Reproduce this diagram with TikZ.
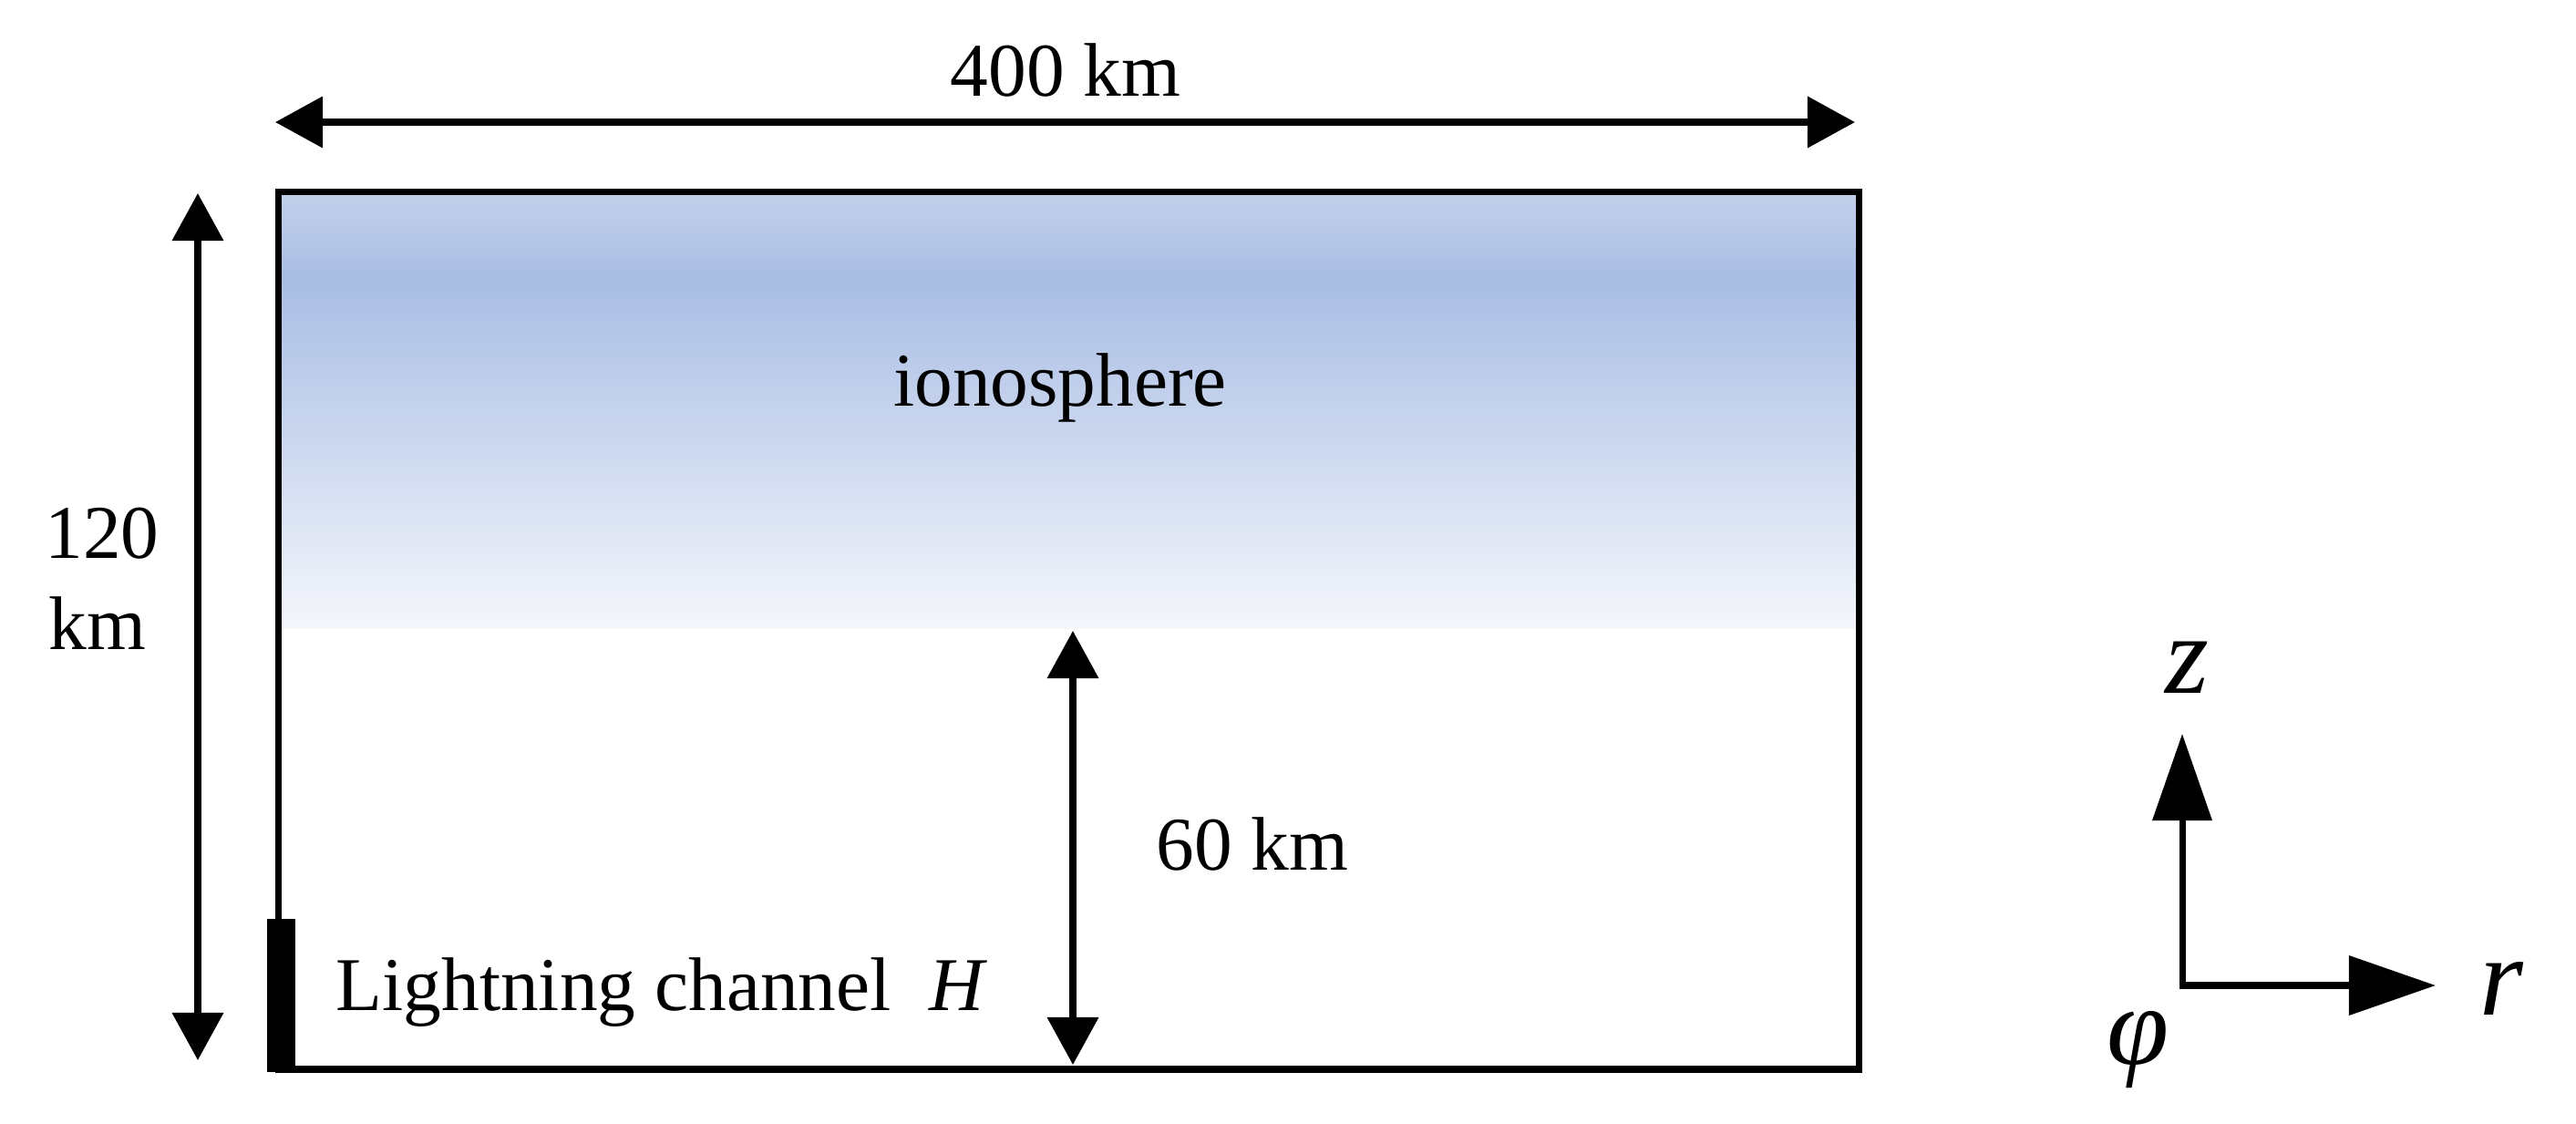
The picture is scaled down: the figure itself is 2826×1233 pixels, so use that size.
\documentclass[tikz,border=0pt]{standalone}
\usepackage{fontspec}
\setmainfont{Liberation Serif}
\usetikzlibrary{arrows.meta}
\definecolor{ionoTop}{HTML}{C3D0EB}
\definecolor{ionoDark}{HTML}{A9BDE4}
\definecolor{ionoLow}{HTML}{F4F6FB}
\pgfdeclareverticalshading{iono}{100bp}{color(0bp)=(ionoLow); color(25bp)=(ionoLow); color(65bp)=(ionoDark); color(75bp)=(ionoTop); color(100bp)=(ionoTop)}
\begin{document}
\begin{tikzpicture}[x=0.01cm,y=-0.01cm,
  lbl/.style={font=\fontsize{23.7}{28}\selectfont, inner sep=0pt, anchor=base},
  axlbl/.style={font=\fontsize{35}{40}\selectfont\itshape, inner sep=0pt, anchor=base},
  dimline/.style={line width=2pt, {Triangle[length=0.52cm,width=0.55cm]}-{Triangle[length=0.52cm,width=0.55cm]}},
  axline/.style={line width=2pt, line join=miter, {Triangle[length=0.95cm,width=0.64cm]}-{Triangle[length=0.95cm,width=0.64cm]}},
  border/.style={line width=2pt},
  chanstyle/.style={fill=black, draw=none, inner sep=0pt, minimum width=0.31cm, minimum height=1.68cm, anchor=south west}]
\useasboundingbox (0,0) rectangle (2826,1233);
% domain corners
\coordinate (domNW) at (305.5,210.5);
\coordinate (domSE) at (2039.5,1173);
\coordinate (ionoSE) at (2039.5,689);
% ionosphere gradient
\shade[shading=iono] (domNW) rectangle (ionoSE);
\draw[border] (domNW) rectangle (domSE);
% lightning channel
\node[chanstyle] (chan) at (292,1177) {};
% width dimension
\coordinate (wL) at (302,134);
\coordinate (wR) at (2035,134);
\draw[dimline] (wL) -- (wR);
\node[lbl] (wlabel) at (1169,105) {400 km};
% height dimension
\coordinate (hT) at (217,212);
\coordinate (hB) at (217,1163);
\draw[dimline] (hT) -- (hB);
\node[lbl] (hlabelA) at (112,612) {120};
\node[lbl] (hlabelB) at (107,712) {km};
% 60 km dimension
\coordinate (mT) at (1177,692);
\coordinate (mB) at (1177,1168);
\draw[dimline] (mT) -- (mB);
\node[lbl] (mlabel) at (1374,954) {60 km};
% texts
\node[lbl] (iono) at (1163,445) {ionosphere};
\node[lbl, anchor=base west] (chanlabel) at (368,1108) {Lightning channel\ \ \textit{H}};
% axes
\coordinate (orig) at (2394,1081);
\coordinate (zTip) at (2394,805);
\coordinate (rTip) at (2672,1081);
\draw[axline] (zTip) -- (orig) -- (rTip);
\node[axlbl] (zlab) at (2399,760) {z};
\node[axlbl] (rlab) at (2744,1113) {r};
\node[axlbl] (philab) at (2346,1167) {φ};
\end{tikzpicture}
\end{document}
